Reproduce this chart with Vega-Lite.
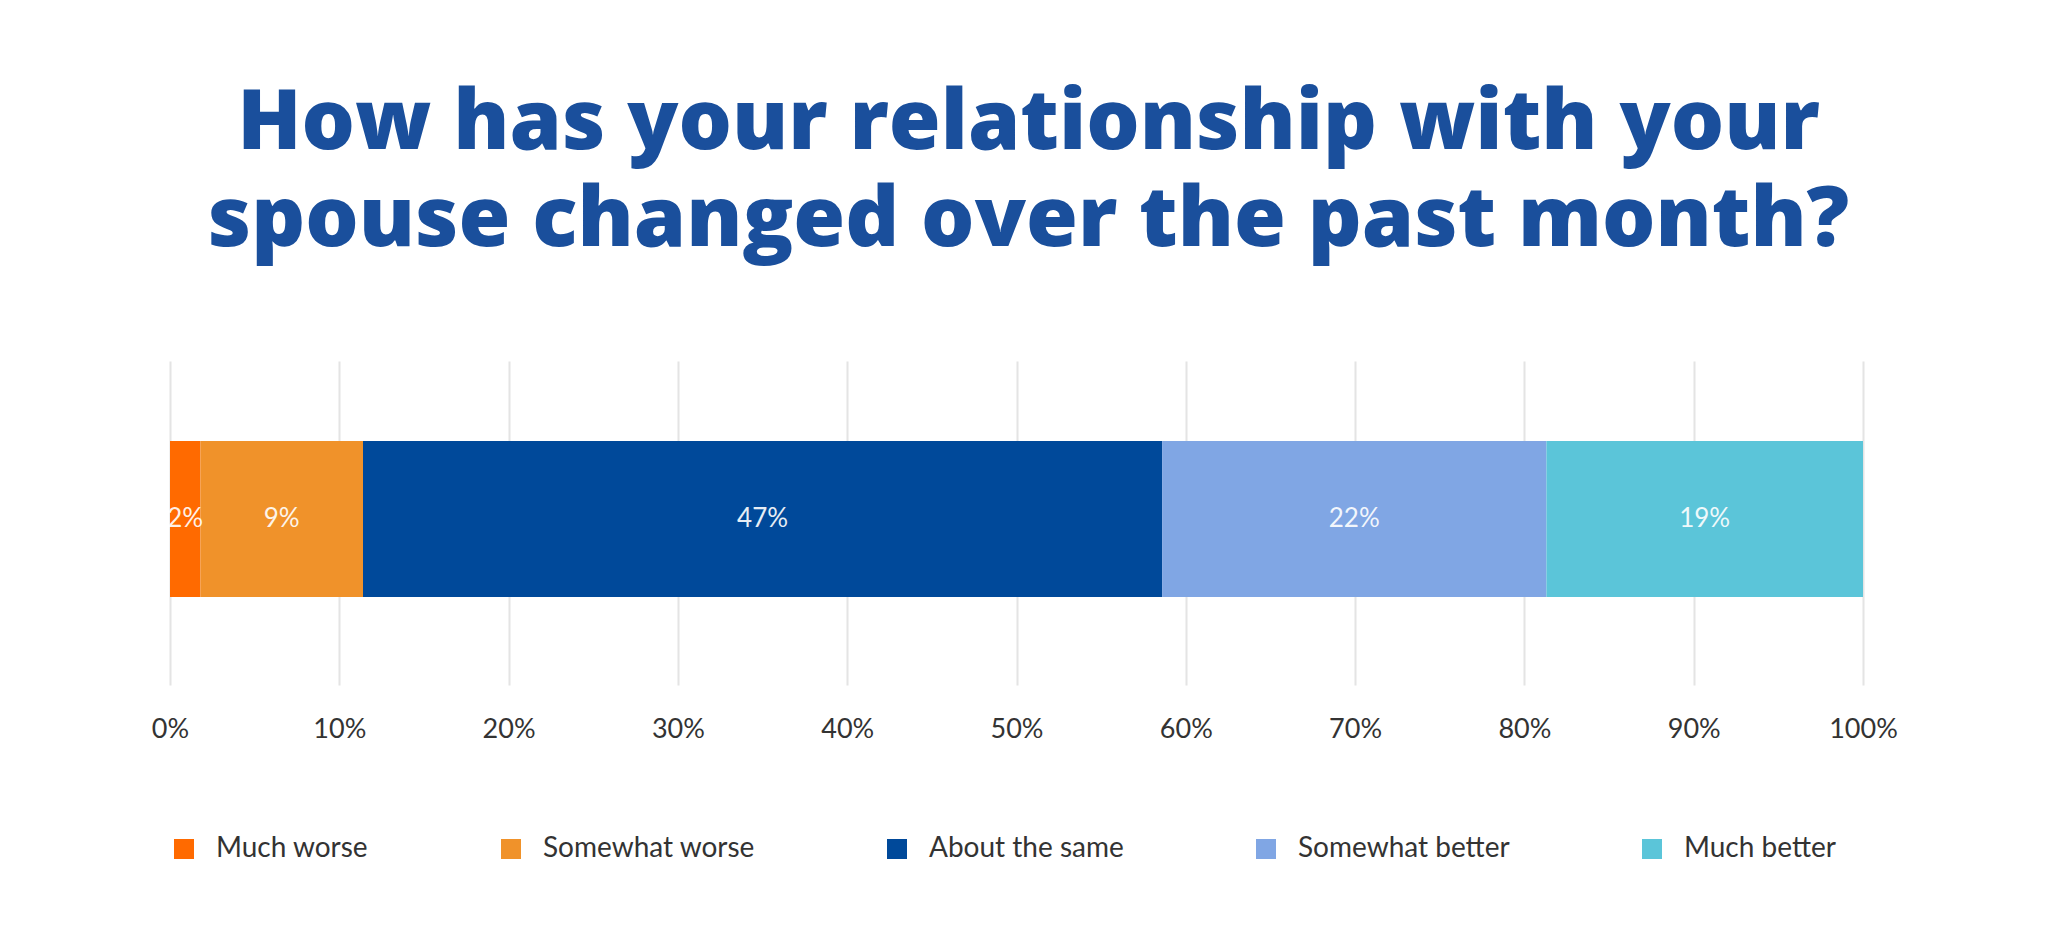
{
  "$schema": "https://vega.github.io/schema/vega-lite/v6.json",
  "width": 1693,
  "height": 324,
  "autosize": {"type": "pad"},
  "padding": {"left": 151, "top": 82, "right": 185, "bottom": 0},
  "background": "white",
  "title": {
    "text": ["How has your relationship with your", "spouse changed over the past month?"],
    "font": "Open Sans",
    "fontWeight": 800,
    "fontSize": 84,
    "color": "#1a4f9c",
    "lineHeight": 97,
    "anchor": "middle",
    "offset": 97,
    "dx": 12
  },
  "data": {
    "values": [
      {"k": 1, "answer": "Much worse", "v": 1.8, "label": "2%"},
      {"k": 2, "answer": "Somewhat worse", "v": 9.6, "label": "9%"},
      {"k": 3, "answer": "About the same", "v": 47.2, "label": "47%"},
      {"k": 4, "answer": "Somewhat better", "v": 22.7, "label": "22%"},
      {"k": 5, "answer": "Much better", "v": 18.7, "label": "19%"}
    ]
  },
  "layer": [
    {
      "mark": {"type": "bar", "height": 156, "yOffset": -4},
      "encoding": {
        "x": {
          "field": "v",
          "type": "quantitative",
          "stack": "zero",
          "scale": {"domain": [0, 100]},
          "axis": {
            "values": [0, 10, 20, 30, 40, 50, 60, 70, 80, 90, 100],
            "labelExpr": "datum.value + '%'",
            "labelFlush": false,
            "grid": true,
            "gridColor": "#e4e4e4",
            "gridWidth": 2,
            "domain": false,
            "ticks": false,
            "labelFont": "Lato",
            "labelFontSize": 27,
            "labelColor": "#333333",
            "labelPadding": 31,
            "title": null
          }
        },
        "order": {"field": "k"},
        "color": {
          "field": "answer",
          "type": "nominal",
          "scale": {
            "domain": ["Much worse", "Somewhat worse", "About the same", "Somewhat better", "Much better"],
            "range": ["#ff6a00", "#f0922a", "#00499a", "#80a6e4", "#5bc5d9"]
          },
          "legend": {
            "title": null,
            "orient": "bottom",
            "direction": "horizontal",
            "columns": 5,
            "symbolType": "square",
            "symbolSize": 400,
            "symbolStrokeWidth": 0,
            "labelFont": "Lato",
            "labelFontSize": 28,
            "labelColor": "#333333",
            "labelOffset": 18,
            "labelLimit": 500,
            "columnPadding": 128,
            "offset": 93
          }
        }
      }
    },
    {
      "mark": {"type": "text", "font": "Lato", "fontSize": 26, "color": "#ffffff", "opacity": 0.9, "yOffset": -4},
      "encoding": {
        "x": {"field": "v", "type": "quantitative", "stack": "zero", "bandPosition": 0.5},
        "order": {"field": "k"},
        "detail": {"field": "answer"},
        "text": {"field": "label"}
      }
    }
  ],
  "config": {"view": {"stroke": null}}
}
